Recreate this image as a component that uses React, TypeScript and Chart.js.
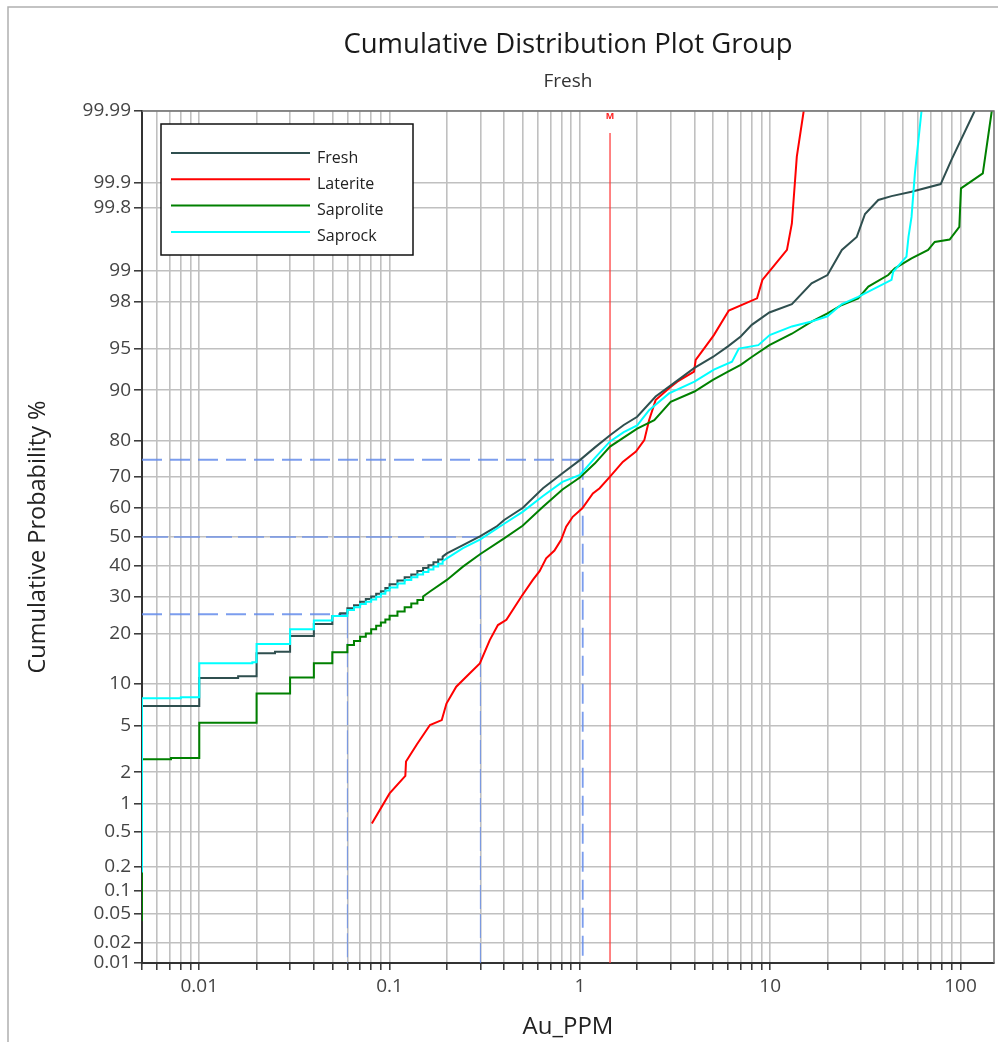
import React, { useEffect, useRef } from "react";
import { Chart, registerables, Scale } from "chart.js";

// ---------------- data ----------------
const seriesNames = ["Fresh", "Laterite", "Saprolite", "Saprock"];
const seriesColors = ["#2F4F4F", "#FF0000", "#008000", "#00FFFF"];

// Fresh: stepped (detection-limit) part, then continuous part
const freshStart = 0.3;
const freshStepX = [0.005, 0.01, 0.016, 0.02, 0.025, 0.03, 0.04, 0.05, 0.055, 0.06, 0.065, 0.07, 0.075, 0.08, 0.085, 0.09, 0.095, 0.1, 0.11, 0.12, 0.13, 0.14, 0.15, 0.16, 0.17, 0.18, 0.19];
const freshStepP = [7.0, 10.9, 11.2, 15.5, 15.8, 19.4, 22.4, 24.5, 25.3, 26.7, 27.6, 28.6, 29.4, 30.2, 31.0, 31.8, 32.8, 34.0, 35.2, 36.3, 37.2, 38.3, 39.3, 40.3, 41.3, 42.2, 43.2];
const freshX = [0.2, 0.243, 0.3, 0.364, 0.4, 0.5, 0.64, 0.81, 1.0, 1.2, 1.44, 1.7, 2.0, 2.5, 3.03, 4.0, 5.0, 6.0, 7.0, 8.0, 9.9, 13, 16.5, 20, 23.8, 28.5, 31.5, 37, 43.4, 55.3, 78.7, 89.5, 118.7];
const freshP = [44.3, 47.2, 50.3, 53.6, 55.9, 60.0, 66.5, 71.1, 74.9, 78.3, 81.3, 83.6, 85.3, 89.0, 90.8, 93.0, 94.2, 95.2, 96.0, 96.8, 97.5, 97.9, 98.66, 98.89, 99.39, 99.56, 99.76, 99.837, 99.854, 99.871, 99.897, 99.95, 99.99];

// Laterite: continuous
const lateriteX = [0.0807, 0.1, 0.121, 0.122, 0.139, 0.163, 0.188, 0.199, 0.224, 0.264, 0.298, 0.336, 0.371, 0.411, 0.492, 0.566, 0.614, 0.665, 0.735, 0.797, 0.847, 0.917, 1.03, 1.17, 1.27, 1.44, 1.68, 1.97, 2.18, 2.31, 2.5, 2.94, 3.25, 3.98, 4.06, 4.49, 5.06, 6.06, 8.53, 9.1, 10.2, 12.25, 13, 13.8, 15.0];
const lateriteP = [0.62, 1.26, 1.85, 2.5, 3.5, 5.04, 5.5, 7.3, 9.56, 11.7, 13.5, 18.4, 22.1, 23.5, 30.1, 35.4, 38.3, 42.6, 45.3, 49.0, 53.6, 57.0, 59.9, 64.8, 66.5, 70.1, 74.4, 77.2, 80.1, 84.6, 88.4, 90.3, 91.25, 92.55, 93.9, 95.0, 96.1, 97.6, 98.14, 98.76, 99.05, 99.39, 99.69, 99.955, 99.99];

// Saprolite
const saproliteStart = 0.04;
const saproliteStepX = [0.005, 0.0071, 0.01, 0.02, 0.03, 0.04, 0.05, 0.06, 0.065, 0.07, 0.075, 0.08, 0.085, 0.09, 0.095, 0.1, 0.11, 0.12, 0.13, 0.14, 0.15];
const saproliteStepP = [2.62, 2.68, 5.25, 8.6, 11.0, 13.5, 15.7, 17.3, 18.2, 19.2, 20.0, 21.0, 21.9, 22.8, 23.6, 24.6, 25.8, 27.0, 28.1, 29.1, 30.2];
const saproliteX = [0.163, 0.2, 0.243, 0.3, 0.4, 0.5, 0.64, 0.81, 1.0, 1.2, 1.44, 2.0, 2.46, 3.0, 4.0, 5.0, 6.0, 7.0, 8.0, 9.9, 13, 16.5, 20, 23.8, 29, 32.8, 41.7, 45.2, 55.3, 67.6, 73.2, 87.7, 98.6, 100.6, 131, 146];
const saproliteP = [31.7, 35.4, 39.8, 44.1, 49.5, 53.9, 60.4, 66.1, 69.8, 74.0, 78.5, 82.8, 84.6, 88.1, 89.8, 91.5, 92.55, 93.35, 94.2, 95.3, 96.2, 97.0, 97.46, 97.86, 98.14, 98.56, 98.89, 99.05, 99.25, 99.39, 99.5, 99.53, 99.66, 99.883, 99.925, 99.99];

// Saprock
const saprockStart = 0.17;
const saprockStepX = [0.005, 0.008, 0.01, 0.019, 0.02, 0.03, 0.04, 0.05, 0.06, 0.065, 0.07, 0.075, 0.08, 0.085, 0.09, 0.095, 0.1, 0.11, 0.12, 0.13, 0.14, 0.15, 0.16, 0.17, 0.18, 0.19];
const saprockStepP = [7.96, 8.1, 13.5, 13.7, 17.5, 21.0, 23.3, 24.5, 26.2, 27.0, 27.9, 28.6, 29.3, 30.1, 31.0, 32.0, 33.0, 34.2, 35.4, 36.3, 37.2, 38.0, 38.8, 39.8, 40.8, 41.6];
const saprockX = [0.2, 0.243, 0.3, 0.4, 0.5, 0.64, 0.81, 1.0, 1.2, 1.44, 1.7, 2.0, 2.31, 2.94, 4.0, 5.06, 6.3, 6.84, 8.66, 9.94, 13, 16.5, 20, 23.8, 29, 43.4, 44.3, 52, 53.3, 55.3, 57.6, 62.4];
const saprockP = [42.6, 46.1, 49.2, 54.6, 58.7, 64.0, 68.5, 70.6, 75.5, 79.8, 82.0, 83.5, 86.6, 89.5, 91.25, 92.8, 93.7, 95.0, 95.3, 96.1, 96.7, 97.0, 97.3, 97.9, 98.2, 98.76, 98.97, 99.28, 99.56, 99.74, 99.925, 99.99];

// reference lines
const refPercents = [25, 50, 75];
const refValues = [0.06, 0.3, 1.035];
const meanValue = 1.44;
const meanLabel = "M";

// axes
const xMin = 0.005;
const xMax = 150;
const xGridValues = [0.005, 0.006, 0.007, 0.008, 0.009, 0.01, 0.02, 0.03, 0.04, 0.05, 0.06, 0.07, 0.08, 0.09, 0.1, 0.2, 0.3, 0.4, 0.5, 0.6, 0.7, 0.8, 0.9, 1, 2, 3, 4, 5, 6, 7, 8, 9, 10, 20, 30, 40, 50, 60, 70, 80, 90, 100];
const xLabelValues = [0.01, 0.1, 1, 10, 100];
const yMin = 0.01;
const yMax = 99.99;
const yTickValues = [0.01, 0.02, 0.05, 0.1, 0.2, 0.5, 1, 2, 5, 10, 20, 30, 40, 50, 60, 70, 80, 90, 95, 98, 99, 99.8, 99.9, 99.99];

const titleText = "Cumulative Distribution Plot Group";
const subtitleText = "Fresh";
const xTitle = "Au_PPM";
const yTitle = "Cumulative Probability %";

// ---------------- helpers ----------------
function normInv(p: number): number {
  const a = [-3.969683028665376e1, 2.209460984245205e2, -2.759285104469687e2, 1.38357751867269e2, -3.066479806614716e1, 2.506628277459239];
  const b = [-5.447609879822406e1, 1.615858368580409e2, -1.556989798598866e2, 6.680131188771972e1, -1.328068155288572e1];
  const c = [-7.784894002430293e-3, -3.223964580411365e-1, -2.400758277161838, -2.549671010605217, 4.374664141464968, 2.938163982698783];
  const d = [7.784695709041462e-3, 3.224671290700398e-1, 2.445134137142996, 3.754408661907416];
  const pl = 0.02425;
  if (p <= 0) return -8;
  if (p >= 1) return 8;
  if (p < pl) {
    const q = Math.sqrt(-2 * Math.log(p));
    return (((((c[0] * q + c[1]) * q + c[2]) * q + c[3]) * q + c[4]) * q + c[5]) / ((((d[0] * q + d[1]) * q + d[2]) * q + d[3]) * q + 1);
  }
  if (p > 1 - pl) {
    const q = Math.sqrt(-2 * Math.log(1 - p));
    return -(((((c[0] * q + c[1]) * q + c[2]) * q + c[3]) * q + c[4]) * q + c[5]) / ((((d[0] * q + d[1]) * q + d[2]) * q + d[3]) * q + 1);
  }
  const q = p - 0.5;
  const r = q * q;
  return ((((((a[0] * r + a[1]) * r + a[2]) * r + a[3]) * r + a[4]) * r + a[5]) * q) / (((((b[0] * r + b[1]) * r + b[2]) * r + b[3]) * r + b[4]) * r + 1);
}

function normCdf(z: number): number {
  const t = 1 / (1 + 0.2316419 * Math.abs(z));
  const dd = 0.3989423 * Math.exp((-z * z) / 2);
  const pr = dd * t * (0.3193815 + t * (-0.3565638 + t * (1.781478 + t * (-1.821256 + t * 1.330274))));
  return z > 0 ? 1 - pr : pr;
}

class ProbabilityScale extends Scale {
  static id = "probability";
  static defaults = {};
  _zMin = -3.7;
  _zMax = 3.7;
  determineDataLimits() {
    const o: any = this.options;
    this.min = o.min;
    this.max = o.max;
  }
  buildTicks() {
    return yTickValues.map((v) => ({ value: v }));
  }
  getLabelForValue(v: number) {
    return String(v);
  }
  configure() {
    super.configure();
    this._zMin = normInv(this.min / 100);
    this._zMax = normInv(this.max / 100);
  }
  getPixelForValue(v: number) {
    const z = normInv(v / 100);
    return this.getPixelForDecimal((z - this._zMin) / (this._zMax - this._zMin));
  }
  getPixelForTick(i: number) {
    return this.getPixelForValue(this.ticks[i].value);
  }
  getValueForPixel(px: number) {
    const dec = this.getDecimalForPixel(px);
    return normCdf(this._zMin + dec * (this._zMax - this._zMin)) * 100;
  }
}

Chart.register(...registerables, ProbabilityScale as any);

function buildSeries(start: number | null, stepX: number[], stepP: number[], xs: number[], ps: number[]) {
  const pts: { x: number; y: number }[] = [];
  if (stepX.length) {
    if (start !== null) pts.push({ x: stepX[0], y: start });
    stepX.forEach((x, i) => {
      if (i > 0) pts.push({ x, y: stepP[i - 1] });
      pts.push({ x, y: stepP[i] });
    });
  }
  xs.forEach((x, i) => pts.push({ x, y: ps[i] }));
  return pts;
}

const FONT = "'Open Sans', 'Noto Sans', sans-serif";

const decorPlugin = {
  id: "decor",
  beforeDraw(chart: any) {
    const ctx = chart.ctx;
    ctx.save();
    ctx.fillStyle = "#ffffff";
    ctx.fillRect(0, 0, chart.width, chart.height);
    ctx.strokeStyle = "#b0b0b0";
    ctx.lineWidth = 1.5;
    ctx.beginPath();
    ctx.moveTo(8, chart.height);
    ctx.lineTo(8, 7);
    ctx.lineTo(998, 7);
    ctx.stroke();
    ctx.restore();
  },
  beforeDatasetsDraw(chart: any) {
    const ctx = chart.ctx;
    const xs = chart.scales.x;
    const ys = chart.scales.y;
    const area = chart.chartArea;
    ctx.save();
    // mean line
    const mx = xs.getPixelForValue(meanValue);
    ctx.strokeStyle = "rgba(255,60,60,0.85)";
    ctx.lineWidth = 1.5;
    ctx.beginPath();
    ctx.moveTo(mx, area.top + 22);
    ctx.lineTo(mx, area.bottom);
    ctx.stroke();
    ctx.fillStyle = "#ff2020";
    ctx.font = `bold 9px ${FONT}`;
    ctx.textAlign = "center";
    ctx.textBaseline = "middle";
    ctx.fillText(meanLabel, mx, area.top + 5);
    // percentile lines
    refPercents.forEach((p, i) => {
      const py = ys.getPixelForValue(p);
      const px = xs.getPixelForValue(refValues[i]);
      ctx.strokeStyle = "rgba(100,140,235,0.85)";
      ctx.lineWidth = p === 50 ? 1.5 : 1.8;
      ctx.setLineDash(p === 50 ? [26, 6] : [20, 8]);
      ctx.beginPath();
      ctx.moveTo(area.left, py);
      ctx.lineTo(px, py);
      ctx.stroke();
      ctx.lineWidth = p === 75 ? 1.8 : 1;
      ctx.setLineDash(p === 75 ? [20, 8] : [24, 5]);
      ctx.beginPath();
      ctx.moveTo(px, py);
      ctx.lineTo(px, area.bottom);
      ctx.stroke();
    });
    ctx.restore();
  },
  afterDraw(chart: any) {
    const ctx = chart.ctx;
    const area = chart.chartArea;
    const cx = (area.left + area.right) / 2;
    ctx.save();
    // plot frame top/right
    ctx.strokeStyle = "#707070";
    ctx.lineWidth = 1.5;
    ctx.beginPath();
    ctx.moveTo(area.left, area.top);
    ctx.lineTo(area.right, area.top);
    ctx.lineTo(area.right, area.bottom);
    ctx.stroke();
    // titles
    ctx.textAlign = "center";
    ctx.textBaseline = "middle";
    ctx.fillStyle = "#1a1a1a";
    ctx.font = `27.5px ${FONT}`;
    ctx.fillText(titleText, cx, 45);
    ctx.fillStyle = "#333333";
    ctx.font = `19px ${FONT}`;
    ctx.fillText(subtitleText, cx, 82);
    ctx.fillStyle = "#222222";
    ctx.font = `24px ${FONT}`;
    ctx.fillText(xTitle, cx, 1027);
    ctx.save();
    ctx.translate(38, (area.top + area.bottom) / 2);
    ctx.rotate(-Math.PI / 2);
    ctx.font = `23.5px ${FONT}`;
    ctx.fillText(yTitle, 0, 0);
    ctx.restore();
    // legend box
    const lx = area.left + 19;
    const ly = area.top + 13;
    const lw = 252;
    const lh = 131;
    ctx.fillStyle = "#ffffff";
    ctx.fillRect(lx, ly, lw, lh);
    ctx.strokeStyle = "#111111";
    ctx.lineWidth = 1.5;
    ctx.strokeRect(lx, ly, lw, lh);
    ctx.font = `16px ${FONT}`;
    ctx.textAlign = "left";
    ctx.textBaseline = "middle";
    chart.data.datasets.forEach((ds: any, i: number) => {
      const yy = ly + 29 + i * 26.3;
      ctx.strokeStyle = ds.borderColor;
      ctx.lineWidth = 2;
      ctx.beginPath();
      ctx.moveTo(lx + 10, yy);
      ctx.lineTo(lx + 149, yy);
      ctx.stroke();
      ctx.fillStyle = "#222222";
      ctx.fillText(ds.label, lx + 156, yy + 5);
    });
    ctx.restore();
  },
};

export default function App() {
  const ref = useRef<HTMLCanvasElement | null>(null);
  useEffect(() => {
    if (!ref.current) return;
    const datasets = [
      { label: seriesNames[0], data: buildSeries(freshStart, freshStepX, freshStepP, freshX, freshP), order: 2 },
      { label: seriesNames[1], data: buildSeries(null, [], [], lateriteX, lateriteP), order: 4 },
      { label: seriesNames[2], data: buildSeries(saproliteStart, saproliteStepX, saproliteStepP, saproliteX, saproliteP), order: 3 },
      { label: seriesNames[3], data: buildSeries(saprockStart, saprockStepX, saprockStepP, saprockX, saprockP), order: 1 },
    ].map((d, i) => ({
      ...d,
      borderColor: seriesColors[i],
      backgroundColor: seriesColors[i],
      borderWidth: 2,
      pointRadius: 0,
      tension: 0,
      fill: false,
    }));
    const chart = new Chart(ref.current, {
      type: "line",
      data: { datasets },
      plugins: [decorPlugin],
      options: {
        animation: false,
        responsive: false,
        maintainAspectRatio: false,
        devicePixelRatio: 1,
        layout: { padding: { top: 111, right: 14, left: 0, bottom: 0 } },
        plugins: { legend: { display: false }, tooltip: { enabled: false }, title: { display: false } },
        scales: {
          x: {
            type: "logarithmic",
            min: xMin,
            max: xMax,
            afterBuildTicks: (s: any) => {
              s.ticks = xGridValues.map((v) => ({ value: v }));
            },
            afterFit: (s: any) => {
              s.height = 79;
            },
            ticks: {
              autoSkip: false,
              maxRotation: 0,
              minRotation: 0,
              padding: 5,
              color: "#444444",
              font: { family: FONT, size: 19 },
              callback: (v: any) => (xLabelValues.includes(Number(v)) ? String(v) : ""),
            },
            grid: { color: "#c0c0c0", lineWidth: 1.6, drawTicks: true, tickLength: 7, tickColor: "#333333", tickWidth: 1.5 },
            border: { display: true, color: "#333333", width: 2 },
          },
          y: {
            type: "probability" as any,
            min: yMin,
            max: yMax,
            afterFit: (s: any) => {
              s.width = 142;
            },
            ticks: {
              autoSkip: false,
              padding: 3,
              color: "#444444",
              font: { family: FONT, size: 19 },
              callback: (v: any) => String(v),
            },
            grid: { color: "#c0c0c0", lineWidth: 1.6, drawTicks: true, tickLength: 8, tickColor: "#333333", tickWidth: 1.5 },
            border: { display: true, color: "#333333", width: 2 },
          } as any,
        },
      } as any,
    });
    return () => chart.destroy();
  }, []);
  return (
    <div style={{ position: "absolute", left: 0, top: 0, width: 1008, height: 1042, background: "#fff" }}>
      <canvas ref={ref} width={1008} height={1042} style={{ display: "block" }} />
    </div>
  );
}
